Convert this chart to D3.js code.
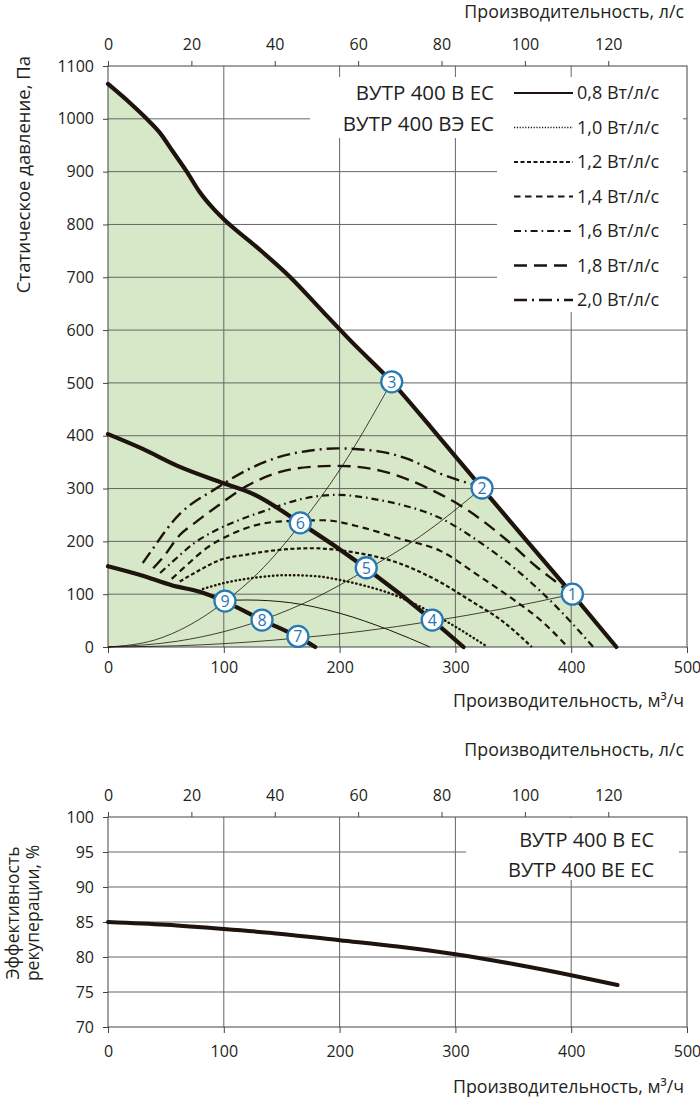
<!DOCTYPE html>
<html>
<head>
<meta charset="utf-8">
<script src="https://cdn.jsdelivr.net/npm/d3@7"></script>
<style>
body { margin: 0; background: #fff; }
svg text { font-family: "Open Sans", sans-serif; fill: #231f20; }
</style>
</head>
<body>
<div class="chart"></div>
<script>
// ---- data ----
const flowTicks = [0, 100, 200, 300, 400, 500];          // m3/h
const lsTicks = [0, 20, 40, 60, 80, 100, 120];           // l/s
const pressTicks = [0, 100, 200, 300, 400, 500, 600, 700, 800, 900, 1000, 1100];
const effTicks = [70, 75, 80, 85, 90, 95, 100];

// fan curves [flow m3/h, pressure Pa]
const maxCurve = [[0,1066],[19,1030],[33,1001],[45,973],[56,938],[68,900],[79,862],[91,830],[100,810],[128,758],[157,701],[186,634],[209,581],[245,502],[280,413],[323,301],[360,205],[401,100],[439,0]];
const midCurve = [[0,403],[30,375],[60,343],[100,310],[125,290],[166,235],[223,149],[280,51],[307,0]];
const lowCurve = [[0,153],[30,135],[55,117],[80,104],[101,86],[133,51],[164,19],[179,0]];

// specific fan power curves
const powerLabels = ["0,8 Вт/л/с", "1,0 Вт/л/с", "1,2 Вт/л/с", "1,4 Вт/л/с", "1,6 Вт/л/с", "1,8 Вт/л/с", "2,0 Вт/л/с"];
const sfp08 = [[97,88],[120,89],[157,84],[200,64],[243,32],[278,0]];
const sfp10 = [[82,110],[100,121],[130,132],[155,136],[180,134],[200,127],[220,117],[243,102],[270,76],[295,45],[328,0]];
const sfp12 = [[62,124],[77,143],[97,165],[120,175],[140,182],[177,187],[210,180],[252,158],[285,125],[315,85],[340,50],[366,0]];
const sfp14 = [[55,129],[68,155],[85,187],[105,212],[125,229],[150,238],[186,240],[220,226],[252,205],[287,182],[320,135],[350,90],[375,48],[397,0]];
const sfp16 = [[45,140],[56,162],[74,196],[94,222],[114,241],[137,259],[165,279],[197,288],[235,278],[252,270],[287,244],[320,200],[356,140],[390,70],[419,0]];
const sfp18 = [[39,149],[48,171],[62,212],[75,235],[94,266],[120,305],[148,331],[175,341],[198,343],[235,334],[275,302],[310,260],[344,203],[370,152],[390,118],[403,95]];
const sfp20 = [[30,159],[40,190],[48,215],[62,252],[71,269],[91,297],[120,335],[148,360],[175,372],[198,376],[235,370],[260,355],[287,328],[318,306]];
const powerCurves = [sfp08, sfp10, sfp12, sfp14, sfp16, sfp18, sfp20];

// system (duct) curves through the numbered points
const sysHigh = [[0,0],[40,13],[70,41],[101,86],[130,141],[166,232],[200,335],[245,502]];
const sysMid = [[0,0],[60,11],[100,29],[133,51],[180,94],[223,146],[270,210],[323,301]];
const sysLow = [[0,0],[80,4],[164,17],[220,30],[280,49],[340,72],[401,100]];
const systemCurves = [sysHigh, sysMid, sysLow];

// numbered working points
const pointIds = [1, 2, 3, 4, 5, 6, 7, 8, 9];
const pointFlow = [401, 323, 245, 280, 223, 166, 164, 133, 101];
const pointPress = [100, 301, 502, 51, 150, 235, 20, 51, 87];

// heat recovery efficiency
const effFlow = [0, 50, 100, 150, 200, 250, 300, 350, 400, 440];
const effValue = [85, 84.6, 84, 83.3, 82.4, 81.5, 80.4, 79, 77.4, 76];

const models1 = ["ВУТР 400 В ЕС", "ВУТР 400 ВЭ ЕС"];
const models2 = ["ВУТР 400 В ЕС", "ВУТР 400 ВЕ ЕС"];

// ---- styles ----
const ink = "#1e130d";
const gridCol = "#666";
const blue = "#2878b4";
const dashes = ["none", "0.4 3.8", "4 2.5", "6.5 4.5", "7 4 1.6 4", "13 7", "13 5 2 5"];
const legendDashes = ["none", "1.2 1.6", "4 2.5", "6.5 4.5", "7 4 1.6 4", "13 7", "13 5 2 5"];
const widths = [1, 2.4, 2.2, 2.2, 2.2, 2.4, 2.4];
const tickFont = 16, titleFont = 17.8;

const width = 700, height = 1099;
const svg = d3.select(".chart").append("svg")
  .attr("width", width).attr("height", height);

// ===== top chart =====
const x = d3.scaleLinear().domain([0, 500]).range([108, 687]);
const xLs = d3.scaleLinear().domain([0, 500 / 3.6]).range([108, 687]);
const y = d3.scaleLinear().domain([0, 1100]).range([647, 66]);

const line = d3.line().x(d => x(d[0])).y(d => y(d[1])).curve(d3.curveMonotoneX);

svg.append("path")
  .datum(maxCurve)
  .attr("fill", "#d6e8c7")
  .attr("d", d3.area().x(d => x(d[0])).y0(y(0)).y1(d => y(d[1])).curve(d3.curveMonotoneX));

// grid
svg.append("g").selectAll("line").data(flowTicks.slice(1, -1)).join("line")
  .attr("x1", d => x(d)).attr("x2", d => x(d)).attr("y1", y(1100)).attr("y2", y(0))
  .attr("stroke", gridCol).attr("stroke-width", 1);
svg.append("g").selectAll("line").data(pressTicks.slice(1, -1)).join("line")
  .attr("x1", x(0)).attr("x2", x(500)).attr("y1", d => y(d)).attr("y2", d => y(d))
  .attr("stroke", gridCol).attr("stroke-width", 1);

// white panels behind the labels
svg.append("rect").attr("x", 310).attr("y", 77).attr("width", 373).attr("height", 61).attr("fill", "#fff");
svg.append("rect").attr("x", 497).attr("y", 138).attr("width", 186).attr("height", 174).attr("fill", "#fff");

// axes
const fmt = d3.format("d");
const yAxis = svg.append("g").attr("transform", `translate(${x(0)},0)`)
  .call(d3.axisLeft(y).tickValues(pressTicks).tickFormat(fmt).tickSize(5).tickPadding(9));
const xAxis = svg.append("g").attr("transform", `translate(0,${y(0)})`)
  .call(d3.axisBottom(x).tickValues(flowTicks).tickFormat(fmt).tickSize(6).tickPadding(9));
const lsAxis = svg.append("g").attr("transform", `translate(0,${y(1100)})`)
  .call(d3.axisTop(xLs).tickValues(lsTicks).tickFormat(fmt).tickSize(5).tickPadding(11));
[yAxis, xAxis, lsAxis].forEach(g => {
  g.select(".domain").remove();
  g.selectAll(".tick line").attr("stroke", "#444");
  g.selectAll("text").attr("font-size", tickFont).attr("fill", "#231f20");
});
svg.append("rect").attr("x", x(0)).attr("y", y(1100))
  .attr("width", x(500) - x(0)).attr("height", y(0) - y(1100))
  .attr("fill", "none").attr("stroke", "#444").attr("stroke-width", 1);

// system curves
svg.append("g").selectAll("path").data(systemCurves).join("path")
  .attr("d", line).attr("fill", "none").attr("stroke", ink).attr("stroke-width", 0.8);

// SFP curves
svg.append("g").selectAll("path").data(powerCurves).join("path")
  .attr("d", line).attr("fill", "none").attr("stroke", ink)
  .attr("stroke-width", (d, i) => widths[i])
  .attr("stroke-linecap", (d, i) => i === 1 ? "round" : "butt")
  .attr("stroke-dasharray", (d, i) => dashes[i]);

// fan curves
svg.append("g").selectAll("path").data([maxCurve, midCurve, lowCurve]).join("path")
  .attr("d", line).attr("fill", "none").attr("stroke", ink)
  .attr("stroke-width", 4.2).attr("stroke-linecap", "round");

// numbered points
const pts = svg.append("g").selectAll("g").data(pointIds).join("g")
  .attr("transform", (d, i) => `translate(${x(pointFlow[i])},${y(pointPress[i])})`);
pts.append("circle").attr("r", 10.5).attr("fill", "#fff").attr("stroke", blue).attr("stroke-width", 2.3);
pts.append("text").text(d => d).attr("text-anchor", "middle").attr("dy", "0.36em")
  .attr("font-size", 16).style("fill", blue);

// model names
svg.append("g").selectAll("text").data(models1).join("text")
  .attr("x", 494).attr("y", (d, i) => 100 + i * 31)
  .attr("text-anchor", "end").attr("font-size", 20.5).text(d => d);

// legend
const leg = svg.append("g").selectAll("g").data(powerLabels).join("g")
  .attr("transform", (d, i) => `translate(0,${93 + i * 34.5})`);
leg.append("line").attr("x1", 514).attr("x2", 573)
  .attr("stroke", ink).attr("stroke-width", (d, i) => i === 0 ? 2.2 : (i === 1 ? 1.5 : widths[i]))
  .attr("stroke-dasharray", (d, i) => legendDashes[i]);
leg.append("text").attr("x", 577).attr("dy", "0.35em").attr("font-size", 18).text(d => d);

// titles
svg.append("text").attr("x", 684).attr("y", 18).attr("text-anchor", "end")
  .attr("font-size", titleFont).text("Производительность, л/с");
svg.append("text").attr("x", 684).attr("y", 707).attr("text-anchor", "end")
  .attr("font-size", titleFont).text("Производительность, м³/ч");
svg.append("text").attr("transform", "translate(30,56) rotate(-90)")
  .attr("text-anchor", "end").attr("font-size", 18.5).text("Статическое давление, Па");

// ===== bottom chart =====
const y2 = d3.scaleLinear().domain([70, 100]).range([1027, 817]);

svg.append("g").selectAll("line").data(flowTicks.slice(1, -1)).join("line")
  .attr("x1", d => x(d)).attr("x2", d => x(d)).attr("y1", y2(100)).attr("y2", y2(70))
  .attr("stroke", gridCol).attr("stroke-width", 1);
svg.append("g").selectAll("line").data(effTicks.slice(1, -1)).join("line")
  .attr("x1", x(0)).attr("x2", x(500)).attr("y1", d => y2(d)).attr("y2", d => y2(d))
  .attr("stroke", gridCol).attr("stroke-width", 1);
svg.append("rect").attr("x", 466).attr("y", 818).attr("width", 213).attr("height", 62).attr("fill", "#fff");

const y2Axis = svg.append("g").attr("transform", `translate(${x(0)},0)`)
  .call(d3.axisLeft(y2).tickValues(effTicks).tickFormat(fmt).tickSize(5).tickPadding(9));
const x2Axis = svg.append("g").attr("transform", `translate(0,${y2(70)})`)
  .call(d3.axisBottom(x).tickValues(flowTicks).tickFormat(fmt).tickSize(6).tickPadding(13));
const ls2Axis = svg.append("g").attr("transform", `translate(0,${y2(100)})`)
  .call(d3.axisTop(xLs).tickValues(lsTicks).tickFormat(fmt).tickSize(5).tickPadding(11));
[y2Axis, x2Axis, ls2Axis].forEach(g => {
  g.select(".domain").remove();
  g.selectAll(".tick line").attr("stroke", "#444");
  g.selectAll("text").attr("font-size", tickFont).attr("fill", "#231f20");
});
svg.append("rect").attr("x", x(0)).attr("y", y2(100))
  .attr("width", x(500) - x(0)).attr("height", y2(70) - y2(100))
  .attr("fill", "none").attr("stroke", "#444").attr("stroke-width", 1);

svg.append("path")
  .datum(effFlow.map((f, i) => [f, effValue[i]]))
  .attr("d", d3.line().x(d => x(d[0])).y(d => y2(d[1])).curve(d3.curveMonotoneX))
  .attr("fill", "none").attr("stroke", ink).attr("stroke-width", 4).attr("stroke-linecap", "round");

svg.append("g").selectAll("text").data(models2).join("text")
  .attr("x", 654).attr("y", (d, i) => 847 + i * 30)
  .attr("text-anchor", "end").attr("font-size", 20).text(d => d);

svg.append("text").attr("x", 684).attr("y", 756).attr("text-anchor", "end")
  .attr("font-size", titleFont).text("Производительность, л/с");
svg.append("text").attr("x", 684).attr("y", 1093).attr("text-anchor", "end")
  .attr("font-size", titleFont).text("Производительность, м³/ч");
svg.append("text").attr("transform", "translate(19,913) rotate(-90)")
  .attr("text-anchor", "middle").attr("font-size", 17.5).text("Эффективность");
svg.append("text").attr("transform", "translate(39,913) rotate(-90)")
  .attr("text-anchor", "middle").attr("font-size", 17.5).text("рекуперации, %");
</script>
</body>
</html>
